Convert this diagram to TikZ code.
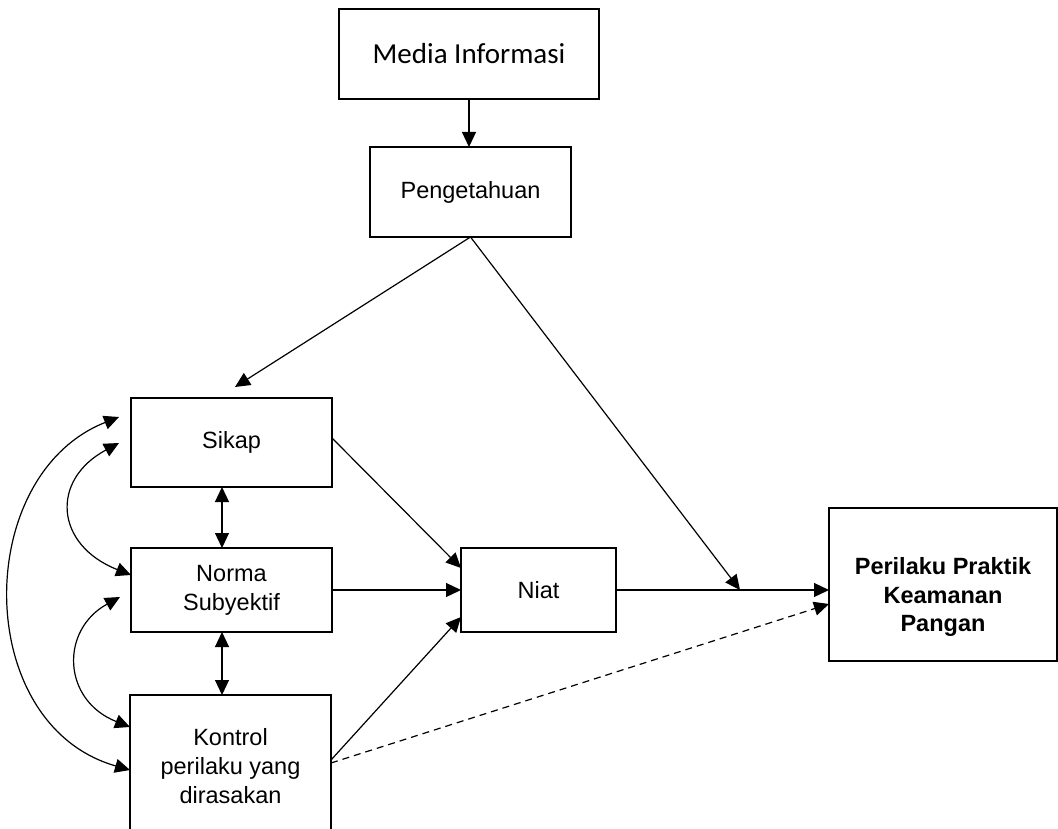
\documentclass[tikz,border=0pt]{standalone}
\usepackage{fontspec}
\setmainfont{Liberation Sans}
\newfontfamily\calibrifont{Carlito}
\usetikzlibrary{arrows.meta,calc}

\tikzset{
  box/.style={draw, line width=1.6pt, rectangle, outer sep=0pt, inner sep=0pt,
    align=center, font=\fontsize{23.5}{29}\selectfont},
  txt/.style={inner sep=0pt, align=center, font=\fontsize{23.5}{28.5}\selectfont},
  tip/.tip={Triangle[length=15pt,width=14pt]},
  link/.style={line width=1.2pt, -tip},
  both/.style={line width=1.2pt, tip-tip},
  hint/.style={link, dash pattern=on 7pt off 5pt}
}

\begin{document}
\begin{tikzpicture}[x=1pt, y=-1pt]
\useasboundingbox (0,0) rectangle (1058,829);

% boxes
\node[box, minimum width=260pt, minimum height=90pt, font=\calibrifont\fontsize{29}{34}\selectfont]
  (media) at (469,54) {Media Informasi};
\node[box, minimum width=201pt, minimum height=90pt] (peng) at (470.5,192) {Pengetahuan};
\node[box, minimum width=201pt, minimum height=89pt] (sikap) at (231.5,442.5) {Sikap};
\node[box, minimum width=201pt, minimum height=84pt] (norma) at (231.5,590) {Norma\\Subyektif};
\node[box, minimum width=201pt, minimum height=142pt] (kontrol) at (230.5,766) {Kontrol\\perilaku yang\\dirasakan};
\node[box, minimum width=155pt, minimum height=84pt] (niat) at (538.5,590) {Niat};
\node[box, minimum width=228pt, minimum height=153pt] (perilaku) at (943,584.5) {};
\node[txt, font=\bfseries\fontsize{23.5}{28.5}\selectfont] (perilakutxt) at (943,597)
  {Perilaku Praktik\\Keamanan\\Pangan};

% knowledge chain
\draw[link] (media.south) -- (media.south |- peng.north);
\draw[link] (peng.south) -- ([shift={(3.5,-11)}]sikap.north);
\coordinate (meet) at (740,590);
\draw[link] (peng.south) -- (meet);

% paths into intention and behaviour
\draw[link] ([yshift=4.5pt]sikap.east) -- ([yshift=22pt]niat.west);
\draw[link] (norma.east) -- (niat.west);
\draw[link] ([yshift=6pt]kontrol.east) -- ([yshift=-27pt]niat.west);
\draw[link] (niat.east) -- (niat.east -| perilaku.west);
\draw[hint] ([yshift=3pt]kontrol.east) -- ([yshift=-19.5pt]perilaku.west);

% correlations between the antecedents
\draw[both] ([xshift=-9.5pt]sikap.south) -- ([xshift=-9.5pt]sikap.south |- norma.north);
\draw[both] ([xshift=-9.5pt]norma.south) -- ([xshift=-9.5pt]norma.south |- kontrol.north);
\draw[both] ([shift={(-12,45)}]sikap.north west) .. controls (50,480) and (55,545) .. ([yshift=-27pt]norma.north west);
\draw[both] ([shift={(-11,49)}]norma.north west) .. controls (60,630) and (62,700) .. ([yshift=-32pt]kontrol.north west);
\draw[both] ([shift={(-12,19)}]sikap.north west) .. controls (-28,475) and (-28,725) .. ([yshift=-75pt]kontrol.north west);
\end{tikzpicture}
\end{document}
